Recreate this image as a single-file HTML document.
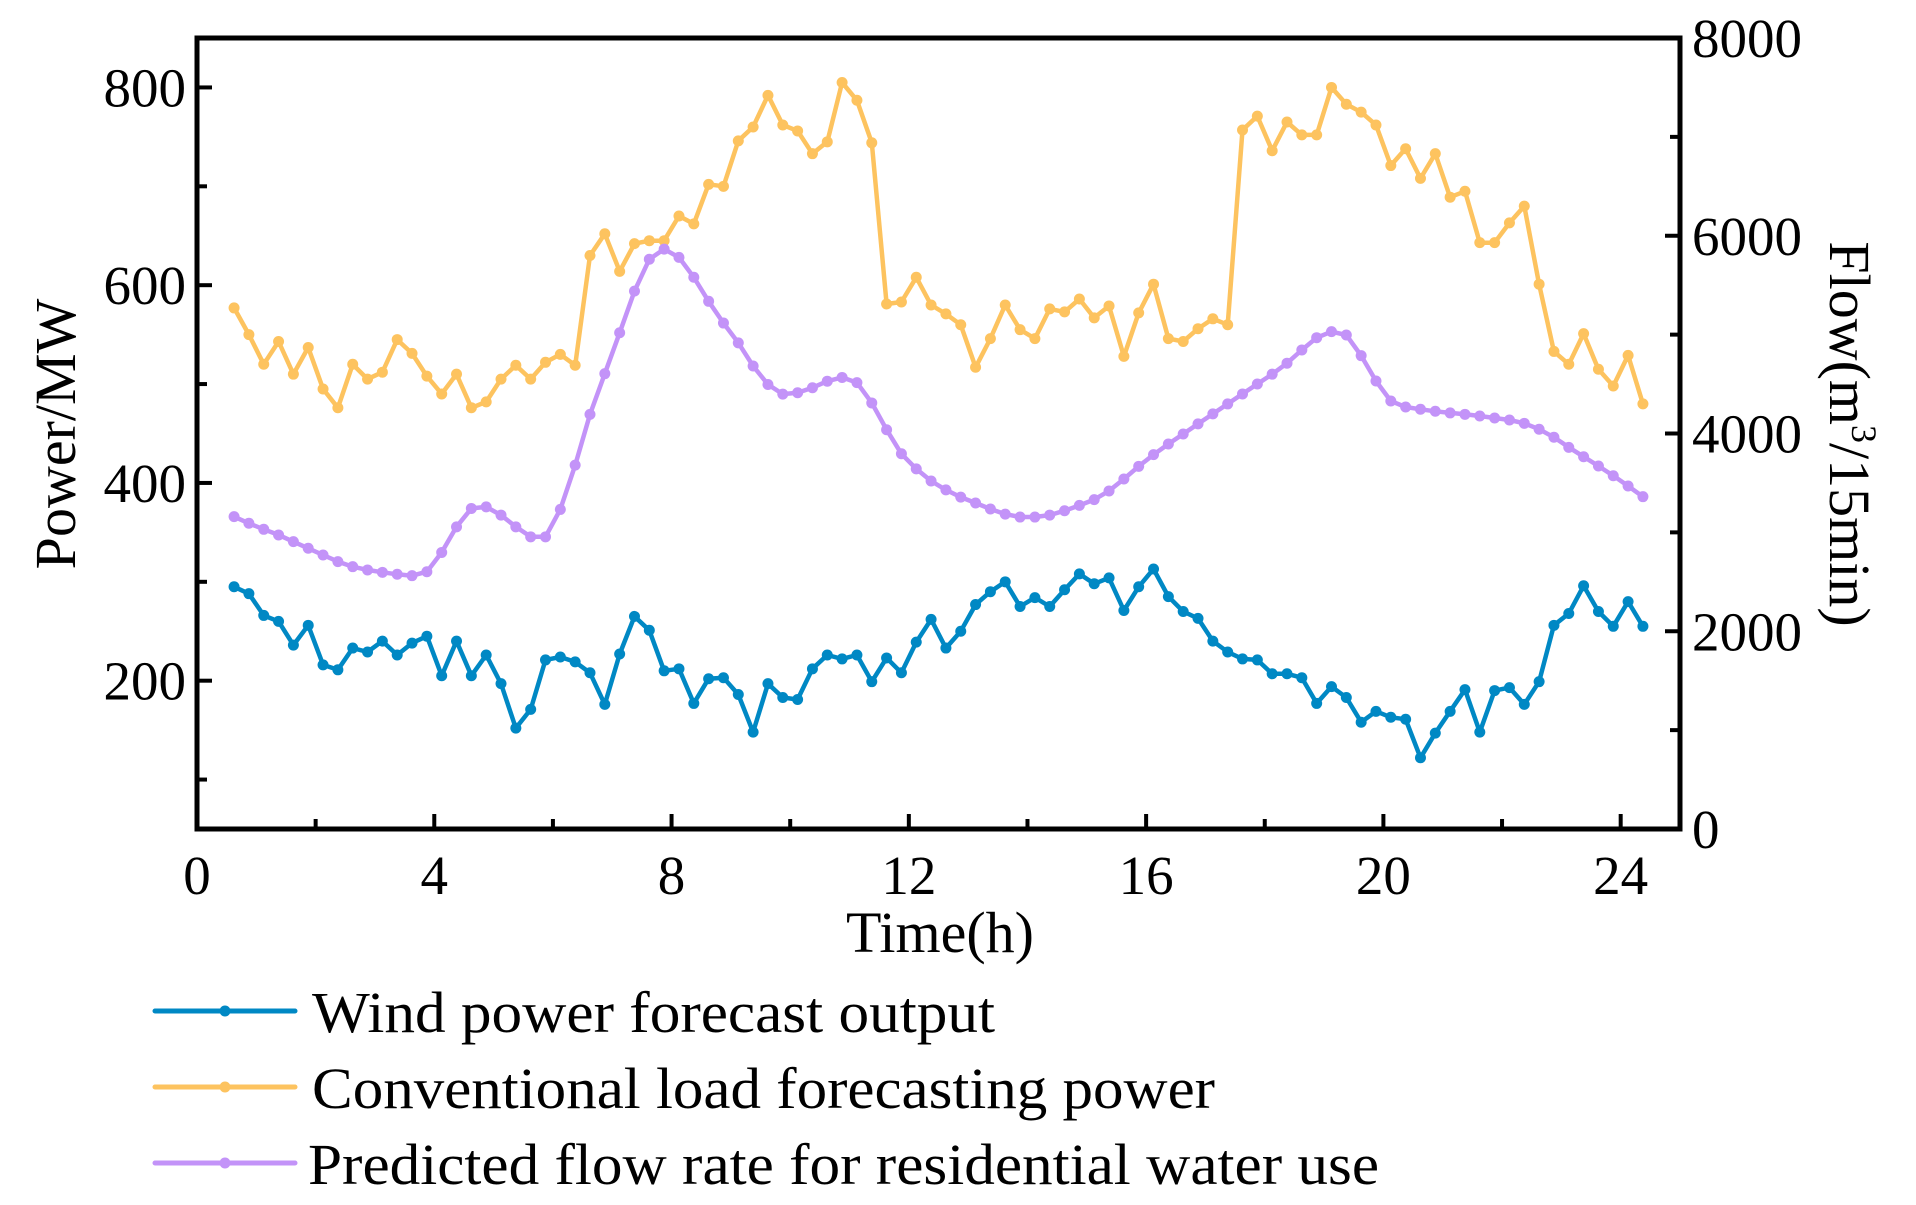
<!DOCTYPE html>
<html><head><meta charset="utf-8"><style>
html,body{margin:0;padding:0;background:#fff;}
svg{display:block;font-family:"Liberation Serif",serif;}
</style></head><body>
<svg id="chart" width="1916" height="1205" viewBox="0 0 1916 1205" xmlns="http://www.w3.org/2000/svg">
<g id="series-layer"></g>
<g id="axes-layer"></g>
<text x="940" y="952" font-size="58" text-anchor="middle">Time(h)</text>
<text transform="translate(75,434) rotate(-90)" font-size="58" text-anchor="middle">Power/MW</text>
<text transform="translate(1830,434) rotate(90)" font-size="58" text-anchor="middle">Flow(m<tspan dy="-22" font-size="36">3</tspan><tspan dy="22">/15min)</tspan></text>
<g>
<g>
<line x1="155" y1="1011" x2="295" y2="1011" stroke="#0088c4" stroke-width="5" stroke-linecap="round"/><circle cx="225" cy="1011" r="5.5" fill="#0088c4"/>
<text x="312" y="1032" font-size="58" textLength="683" lengthAdjust="spacingAndGlyphs">Wind power forecast output</text></g>
<g>
<line x1="155" y1="1087" x2="295" y2="1087" stroke="#fdc35f" stroke-width="5" stroke-linecap="round"/><circle cx="225" cy="1087" r="5.5" fill="#fdc35f"/>
<text x="312" y="1108" font-size="58" textLength="903" lengthAdjust="spacingAndGlyphs">Conventional load forecasting power</text></g>
<g>
<line x1="155" y1="1163" x2="295" y2="1163" stroke="#c393f8" stroke-width="5" stroke-linecap="round"/><circle cx="225" cy="1163" r="5.5" fill="#c393f8"/>
<text x="308" y="1184" font-size="58" textLength="1071" lengthAdjust="spacingAndGlyphs">Predicted flow rate for residential water use</text></g>
</g>
</svg>
<script>
const windPower = [295,288,266,260,236,256,216,211,233,229,240,226,238,245,205,240,205,226,197,152,171,221,224,219,208,176,227,265,251,210,212,177,202,203,186,148,197,183,181,212,226,222,226,199,223,208,239,262,233,250,277,290,300,275,284,275,292,308,298,304,271,295,313,285,270,263,240,229,222,221,207,207,203,177,194,183,158,169,163,161,122,147,169,191,148,190,193,176,199,256,268,296,270,255,280,255];
const loadPower = [577,550,520,543,510,537,495,476,520,505,512,545,531,508,490,510,476,482,505,519,505,522,530,519,630,652,614,642,645,645,670,662,702,700,746,760,792,762,756,733,745,805,787,744,581,583,608,580,571,560,517,546,580,555,546,576,573,586,567,579,528,572,601,546,543,556,566,560,757,771,736,765,752,752,800,783,775,762,721,738,708,733,689,695,643,643,663,680,601,533,520,551,515,498,529,480];
const waterFlow = [3159,3092,3031,2974,2906,2839,2771,2704,2653,2620,2596,2576,2562,2602,2797,3056,3242,3258,3175,3056,2955,2955,3232,3680,4193,4605,5019,5440,5762,5865,5781,5580,5337,5117,4917,4683,4496,4398,4412,4463,4529,4567,4515,4309,4038,3795,3642,3520,3430,3357,3297,3236,3185,3155,3155,3175,3219,3273,3331,3419,3540,3668,3786,3894,3995,4097,4198,4299,4400,4501,4600,4711,4845,4969,5030,4996,4787,4531,4329,4268,4245,4225,4208,4194,4177,4157,4137,4103,4043,3962,3860,3765,3671,3573,3469,3361];
const xTicks = [0,4,8,12,16,20,24];
const leftTicks = [200,400,600,800];
const rightTicks = [0,2000,4000,6000,8000];

const L=197,R=1680,T=38,B=829;
const xs = h => L + (h-0)/(25-0)*(R-L);
const yl = v => B - (v-50)/(850-50)*(B-T);
const yr = v => B - (v-0)/(8000-0)*(B-T);
const timeOf = i => 0.625 + i*0.25;
const NS="http://www.w3.org/2000/svg";
function mk(tag, attrs, parent){const e=document.createElementNS(NS,tag);for(const k in attrs)e.setAttribute(k,attrs[k]);parent.appendChild(e);return e;}
const sl=document.getElementById('series-layer');
const al=document.getElementById('axes-layer');

function drawSeries(vals, yfn, color, name){
  const g=mk('g',{},sl);
  
  
  const pts=vals.map((v,i)=>xs(timeOf(i)).toFixed(1)+','+yfn(v).toFixed(1)).join(' ');
  const pl=mk('polyline',{points:pts,fill:'none',stroke:color,'stroke-width':4.5,'stroke-linejoin':'round'},g);
  
  
  vals.forEach((v,i)=>{
    const c=mk('circle',{cx:xs(timeOf(i)),cy:yfn(v),r:5.5,fill:color},g);
    
    
  });
}
drawSeries(loadPower, yl, '#fdc35f', 'load-series');
drawSeries(waterFlow, yr, '#c393f8', 'flow-series');
drawSeries(windPower, yl, '#0088c4', 'wind-series');

const fr=mk('rect',{x:L,y:T,width:R-L,height:B-T,fill:'none',stroke:'#000','stroke-width':5},al);


for(let h=0;h<=24;h+=2){
  const major=h%4===0;
  const t=mk('line',{x1:xs(h),x2:xs(h),y1:B,y2:B-(major?15:10),stroke:'#000','stroke-width':4},al);
  
  
}
xTicks.forEach(h=>{
  const t=mk('text',{x:xs(h),y:894,'font-size':55,'text-anchor':'middle'},al);
  t.textContent=h;
  
  
});
for(let v=100;v<=800;v+=100){
  const major=v%200===0;
  const t=mk('line',{x1:L,x2:L+(major?15:10),y1:yl(v),y2:yl(v),stroke:'#000','stroke-width':4},al);
  
  
}
leftTicks.forEach(v=>{
  const t=mk('text',{x:186,y:yl(v)+19,'font-size':55,'text-anchor':'end'},al);
  t.textContent=v;
  
  
});
for(let v=0;v<=8000;v+=1000){
  const major=v%2000===0;
  const t=mk('line',{x1:R,x2:R-(major?15:10),y1:yr(v),y2:yr(v),stroke:'#000','stroke-width':4},al);
  
  
}
rightTicks.forEach(v=>{
  const t=mk('text',{x:1692,y:yr(v)+19,'font-size':55,'text-anchor':'start'},al);
  t.textContent=v;
  
  
});
</script>
</body></html>
